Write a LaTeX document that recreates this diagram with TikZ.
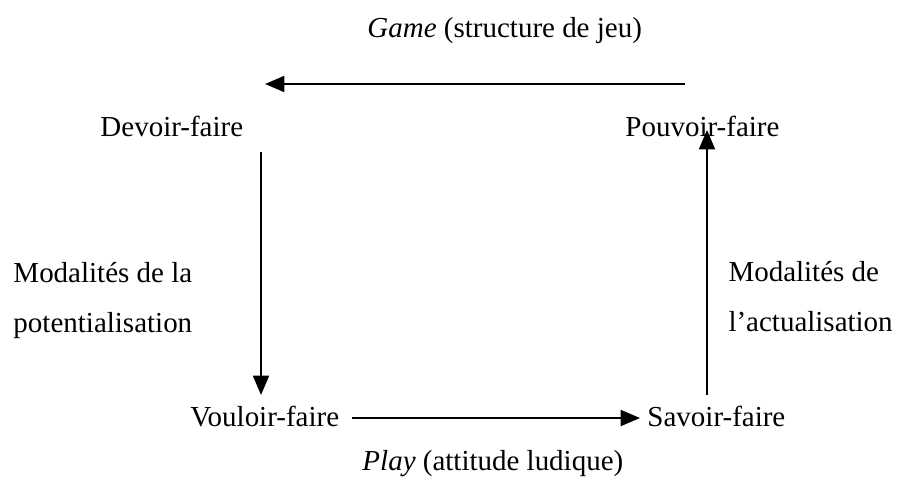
\documentclass[tikz,border=0pt]{standalone}
\usepackage{fontspec}
\setmainfont{Liberation Serif}
\usetikzlibrary{arrows.meta}
\begin{document}
\begin{tikzpicture}[x=0.414pt,y=-0.414pt,
    font=\fontsize{12}{20.7}\selectfont,
    lbl/.style={inner sep=0pt,anchor=base west},
    modal/.style={inner sep=0pt,anchor=west,align=left},
    fleche/.style={line width=0.8pt,-{Triangle[length=8pt,width=6.6pt]}}]
  \useasboundingbox (0,0) rectangle (898,481);
  \draw
    (367,38) node[lbl] (game){\textit{Game} (structure de jeu)}
    (100,136) node[lbl] (D){Devoir-faire}
    (625,136) node[lbl] (P){Pouvoir-faire}
    (190,426) node[lbl] (V){Vouloir-faire}
    (647,426) node[lbl] (S){Savoir-faire}
    (362,470) node[lbl] (play){\textit{Play} (attitude ludique)}
    (13,301) node[modal] (pot){Modalités de la\\potentialisation}
    (728,297) node[modal] (act){Modalités de\\l’actualisation};
  \coordinate (g1) at (685,84);
  \coordinate (g2) at (265,84);
  \coordinate (d1) at (261,152);
  \coordinate (v1) at (261,395);
  \coordinate (v2) at (352,418);
  \coordinate (s1) at (640,418);
  \coordinate (s2) at (707,395);
  \coordinate (p1) at (707,130);
  \begin{scope}[fleche]
    \draw (g1) to (g2);
    \draw (d1) to (v1);
    \draw (v2) to (s1);
    \draw (s2) to (p1);
  \end{scope}
\end{tikzpicture}
\end{document}
